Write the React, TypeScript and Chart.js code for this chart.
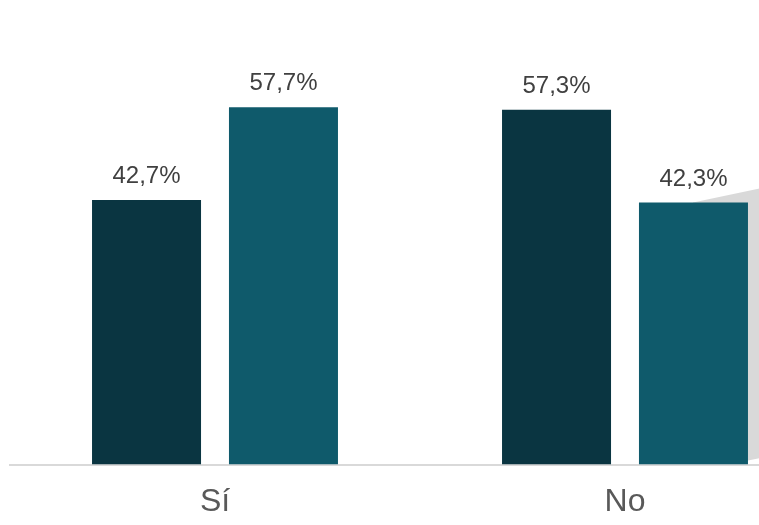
import React, { useEffect, useRef } from "react";
import { Chart, registerables } from "chart.js";

Chart.register(...registerables);

const categories = ["Sí", "No"];
const seriesA = [42.7, 57.3];
const seriesB = [57.7, 42.3];
const seriesNames = ["Serie 1", "Serie 2"];
const colors = ["#0A3541", "#0F5A6B"];

const fmt = (v: number) => v.toFixed(1).replace(".", ",") + "%";

const labelPlugin = {
  id: "valueLabels",
  afterDatasetsDraw(chart: any) {
    const ctx = chart.ctx;
    ctx.save();
    ctx.font = "24px 'Liberation Sans', Arial, sans-serif";
    ctx.fillStyle = "#404040";
    ctx.textAlign = "center";
    ctx.textBaseline = "alphabetic";
    chart.data.datasets.forEach((ds: any, i: number) => {
      const meta = chart.getDatasetMeta(i);
      meta.data.forEach((bar: any, j: number) => {
        ctx.fillText(fmt(ds.data[j]), bar.x, bar.y - 17);
      });
    });
    ctx.restore();
  },
};

const foldPlugin = {
  id: "fold",
  beforeDatasetsDraw(chart: any) {
    const meta = chart.getDatasetMeta(1);
    const bar = meta.data[1];
    if (!bar) return;
    const ctx = chart.ctx;
    const right = bar.x + bar.width / 2;
    const base = chart.scales.y.getPixelForValue(0);
    ctx.save();
    ctx.fillStyle = "#D9D9D9";
    ctx.beginPath();
    ctx.moveTo(right - 55, bar.y);
    ctx.lineTo(right + 40, bar.y - 20);
    ctx.lineTo(right + 40, base - 12);
    ctx.lineTo(right, base - 4);
    ctx.closePath();
    ctx.fill();
    ctx.restore();
  },
};

export default function App() {
  const ref = useRef<HTMLCanvasElement | null>(null);
  useEffect(() => {
    if (!ref.current) return;
    const chart = new Chart(ref.current, {
      type: "bar",
      data: {
        labels: categories,
        datasets: [
          { label: seriesNames[0], data: seriesA, backgroundColor: colors[0] },
          { label: seriesNames[1], data: seriesB, backgroundColor: colors[1] },
        ],
      },
      options: {
        animation: false,
        responsive: false,
        layout: { padding: { left: 10, right: 10, top: 31, bottom: 0 } },
        plugins: { legend: { display: false }, tooltip: { enabled: false } },
        datasets: { bar: { categoryPercentage: 0.668, barPercentage: 0.796 } },
        scales: {
          x: {
            grid: { display: false, drawTicks: false, tickLength: 0 },
            border: { display: true, color: "#D9D9D9", width: 2 },
            ticks: {
              color: "#595959",
              padding: 18,
              font: { size: 32, family: "'Liberation Sans', Arial, sans-serif" },
            },
          },
          y: { display: false, min: 0, max: 70 },
        },
      },
      plugins: [foldPlugin, labelPlugin],
    });
    return () => chart.destroy();
  }, []);
  return (
    <div style={{ position: "absolute", left: 0, top: 0, width: 759, height: 525, overflow: "hidden", background: "#fff" }}>
      <canvas ref={ref} width={840} height={539} style={{ display: "block", width: 840, height: 539 }} />
    </div>
  );
}
